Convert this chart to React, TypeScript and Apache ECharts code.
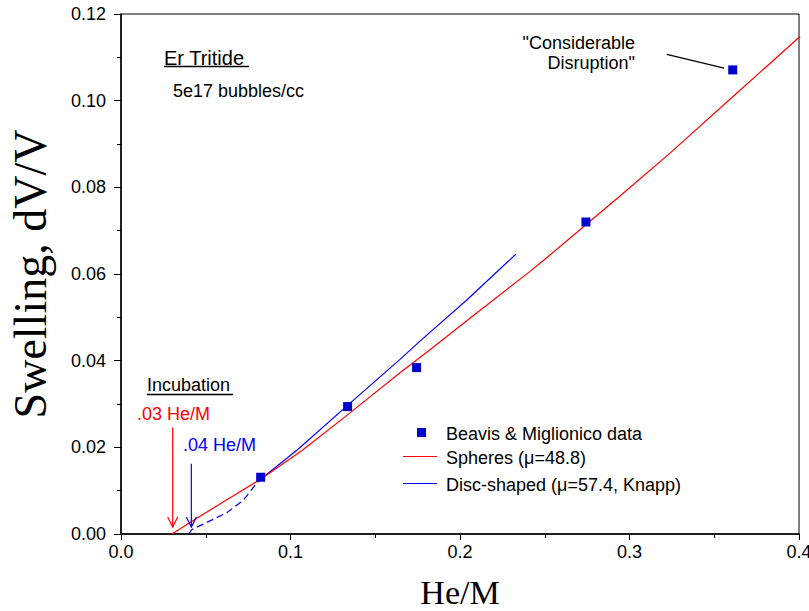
import React, { useEffect, useRef } from 'react';
import * as echarts from 'echarts';

// Measured swelling (Beavis & Miglionico)
const heliumRatio = [0.0824, 0.1337, 0.1744, 0.2743, 0.3609];
const swellingMeasured = [0.0131, 0.0294, 0.0384, 0.072, 0.1071];

// Model: spherical bubbles (mu = 48.8)
const spheresX = [0.03, 0.045, 0.062, 0.083, 0.1066, 0.134, 0.1646, 0.1823, 0.204, 0.2413, 0.2501, 0.2944, 0.3239, 0.3632, 0.4006];
const spheresY = [0.0, 0.0037, 0.0078, 0.0128, 0.0192, 0.0276, 0.0372, 0.0425, 0.0492, 0.0606, 0.0634, 0.078, 0.0879, 0.1017, 0.1148];

// Model: disc-shaped bubbles (mu = 57.4, Knapp), solid part
const discX = [0.083, 0.1046, 0.134, 0.1646, 0.1764, 0.204, 0.233];
const discY = [0.0128, 0.0196, 0.0298, 0.0403, 0.0445, 0.054, 0.0646];

// Disc-shaped model below the first measurement (dashed)
const discLowX = [0.04, 0.0417, 0.0624, 0.0722, 0.08, 0.083];
const discLowY = [0.0, 0.001, 0.0049, 0.0078, 0.0117, 0.0128];

const xTickLabels = ['0.0', '0.1', '0.2', '0.3', '0.4'];
const yTickLabels = ['0.00', '0.02', '0.04', '0.06', '0.08', '0.10', '0.12'];

const legendNames = ['Beavis & Miglionico data', 'Spheres (\u03bc=48.8)', 'Disc-shaped (\u03bc=57.4, Knapp)'];

const RED = '#ff0000';
const BLUE = '#0000ff';
const MARKER = '#0000cc';
const SANS = '"Liberation Sans", Arial, sans-serif';
const SERIF = '"Liberation Serif", "Times New Roman", serif';

const W = 809;
const H = 611;

const zip = (xs: number[], ys: number[]) => xs.map((x, i) => [x, ys[i]]);

export default function App() {
  const ref = useRef<HTMLDivElement>(null);

  useEffect(() => {
    document.body.style.margin = '0';
    document.body.style.overflow = 'hidden';
    const chart = echarts.init(ref.current!, null, { renderer: 'svg', width: W, height: H });
    chart.setOption({
      animation: false,
      backgroundColor: '#ffffff',
      textStyle: { fontFamily: SANS },
      grid: {
        left: 121,
        right: 10,
        top: 14,
        bottom: 77,
        outerBoundsMode: 'none',
        containLabel: false,
        show: true,
        borderColor: '#000',
        borderWidth: 1,
      },
      xAxis: {
        type: 'value',
        min: 0,
        max: 0.4,
        interval: 0.1,
        name: 'He/M',
        nameLocation: 'middle',
        nameGap: 41,
        nameTextStyle: { fontFamily: SERIF, fontSize: 34, color: '#000' },
        axisLine: { lineStyle: { color: '#000', width: 1.5 } },
        axisTick: { inside: false, length: 6, lineStyle: { color: '#000' } },
        minorTick: { show: true, splitNumber: 2, length: 4, lineStyle: { color: '#000' } },
        splitLine: { show: false },
        axisLabel: {
          color: '#000',
          fontSize: 18,
          margin: 9,
          formatter: (v: number) => xTickLabels[Math.round(v * 10)] ?? v.toFixed(1),
        },
      },
      yAxis: {
        type: 'value',
        min: 0,
        max: 0.12,
        interval: 0.02,
        name: 'Swelling, dV/V',
        nameLocation: 'middle',
        nameRotate: 90,
        nameGap: 68,
        nameTextStyle: { fontFamily: SERIF, fontSize: 46, color: '#000' },
        axisLine: { lineStyle: { color: '#000', width: 1.5 } },
        axisTick: { inside: false, length: 7, lineStyle: { color: '#000' } },
        minorTick: { show: true, splitNumber: 2, length: 4, lineStyle: { color: '#000' } },
        splitLine: { show: false },
        axisLabel: {
          color: '#000',
          fontSize: 18,
          margin: 15,
          formatter: (v: number) => yTickLabels[Math.round(v * 50)] ?? v.toFixed(2),
        },
      },
      series: [
        {
          name: legendNames[2] + ' low',
          type: 'line',
          data: zip(discLowX, discLowY),
          showSymbol: false,
          symbol: 'none',
          lineStyle: { color: BLUE, width: 1.2, type: [7, 4] },
          z: 2,
        },
        {
          name: legendNames[2],
          type: 'line',
          data: zip(discX, discY),
          showSymbol: false,
          symbol: 'none',
          lineStyle: { color: BLUE, width: 1.2 },
          z: 2,
        },
        {
          name: legendNames[1],
          type: 'line',
          data: zip(spheresX, spheresY),
          showSymbol: false,
          symbol: 'none',
          lineStyle: { color: RED, width: 1.2 },
          z: 3,
        },
        {
          name: legendNames[0],
          type: 'scatter',
          data: zip(heliumRatio, swellingMeasured),
          symbol: 'rect',
          symbolSize: 9,
          itemStyle: { color: MARKER, opacity: 1 },
          z: 4,
        },
      ],
    });

    const p = (x: number, y: number) => chart.convertToPixel({ gridIndex: 0 }, [x, y]) as number[];

    const text = (t: string, x: number, y: number, color: string, size = 18, align = 'left', lh = 18) => ({
      type: 'text',
      x,
      y,
      z: 10,
      style: {
        text: t,
        fill: color,
        fontSize: size,
        fontFamily: SANS,
        lineHeight: lh,
        align,
        verticalAlign: 'middle',
        textAlign: align,
        textVerticalAlign: 'middle',
      },
    });

    const seg = (a: number[], b: number[], color: string, width = 1.2) => ({
      type: 'line',
      z: 10,
      shape: { x1: a[0], y1: a[1], x2: b[0], y2: b[1] },
      style: { stroke: color, lineWidth: width },
    });

    const arrow = (xv: number, yTop: number, yTip: number, color: string) => {
      const top = p(xv, yTop);
      const tip = p(xv, yTip);
      return [
        seg(top, tip, color),
        {
          type: 'polyline',
          z: 10,
          shape: { points: [[tip[0] - 5, tip[1] - 10], [tip[0], tip[1]], [tip[0] + 5, tip[1] - 10]] },
          style: { stroke: color, lineWidth: 1.2, fill: 'none' },
        },
      ];
    };

    const disrA = p(0.322, 0.1107);
    const disrB = p(0.3558, 0.1075);

    const graphic: any[] = [
      // sample description
      text('Er Tritide', 164, 58, '#000', 20),
      seg([164, 66.5], [249, 66.5], '#000', 1.5),
      text('5e17 bubbles/cc', 173, 90.5, '#000', 18),
      // incubation thresholds
      text('Incubation', 147, 385, '#000', 18),
      seg([147, 394.5], [233, 394.5], '#000', 1.5),
      text('.03 He/M', 137, 414, RED, 18),
      text('.04 He/M', 183, 445, BLUE, 18),
      ...arrow(0.0305, 0.0246, 0.0016, RED),
      ...arrow(0.0415, 0.0162, 0.0016, BLUE),
      // callout for the last measurement
      text('"Considerable\nDisruption"', 635, 52.7, '#000', 18, 'right', 20),
      seg(disrA, disrB, '#000', 1.2),
      // legend
      {
        type: 'rect',
        z: 10,
        shape: { x: 417, y: 428, width: 9, height: 9 },
        style: { fill: MARKER },
      },
      text(legendNames[0], 446, 434, '#000', 18),
      seg([403, 456.5], [437, 456.5], RED, 1.2),
      text(legendNames[1], 446, 458, '#000', 18),
      seg([403, 483.5], [437, 483.5], BLUE, 1.2),
      text(legendNames[2], 446, 485, '#000', 18),
    ];

    chart.setOption({ graphic });

    return () => chart.dispose();
  }, []);

  return (
    <div
      ref={ref}
      style={{ position: 'fixed', left: 0, top: 0, width: W, height: H, background: '#fff' }}
    />
  );
}
